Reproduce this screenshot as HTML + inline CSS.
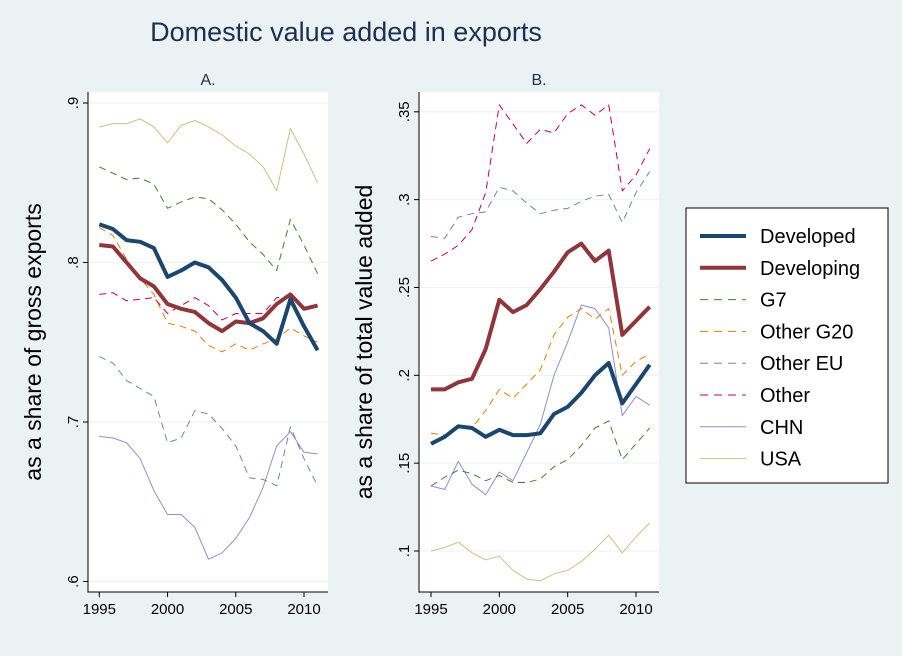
<!DOCTYPE html>
<html><head><meta charset="utf-8"><style>
body{margin:0;background:#eaf2f3;}
svg{display:block;font-family:"Liberation Sans",Arial,sans-serif;}
</style></head><body>
<svg width="902" height="656" viewBox="0 0 902 656">
<rect width="902" height="656" fill="#eaf2f3"/>
<text x="346" y="41" font-size="27" fill="#1e2d53" text-anchor="middle">Domestic value added in exports</text>
<g id="pA"></g>
<g id="pB"></g>
<g id="legend"></g>
</svg>
<script>
const years=[1995,1996,1997,1998,1999,2000,2001,2002,2003,2004,2005,2006,2007,2008,2009,2010,2011];
const seriesNames=["Developed","Developing","G7","Other G20","Other EU","Other","CHN","USA"];
const xTicks=[1995,2000,2005,2010];
const aTicks=[0.6,0.7,0.8,0.9];
const aTickLabels=[".6",".7",".8",".9"];
const bTicks=[0.1,0.15,0.2,0.25,0.3,0.35];
const bTickLabels=[".1",".15",".2",".25",".3",".35"];
const aDeveloped=[.824,.821,.814,.813,.809,.791,.795,.8,.797,.789,.778,.762,.757,.749,.777,.76,.745];
const aDeveloping=[.811,.81,.8,.79,.785,.774,.771,.769,.762,.757,.763,.762,.765,.774,.78,.771,.773];
const aG7=[.86,.856,.852,.853,.849,.834,.838,.841,.84,.833,.824,.813,.805,.795,.827,.811,.793];
const aOtherG20=[.822,.817,.802,.79,.78,.762,.76,.757,.748,.744,.749,.745,.749,.752,.759,.754,.75];
const aOtherEU=[.741,.737,.726,.721,.716,.687,.69,.707,.705,.696,.685,.665,.664,.66,.697,.677,.66];
const aOther=[.78,.781,.776,.777,.778,.768,.773,.778,.773,.764,.768,.768,.768,.778,.779,.772,.773];
const aCHN=[.691,.69,.687,.677,.657,.642,.642,.634,.614,.618,.627,.64,.659,.685,.694,.681,.68];
const aUSA=[.885,.887,.887,.89,.885,.875,.886,.889,.885,.88,.873,.868,.86,.845,.884,.868,.85];
const bDeveloped=[.161,.165,.171,.17,.165,.169,.166,.166,.167,.178,.182,.19,.2,.207,.184,.195,.206];
const bDeveloping=[.192,.192,.196,.198,.215,.243,.236,.24,.249,.259,.27,.275,.265,.271,.223,.231,.239];
const bG7=[.137,.142,.146,.144,.14,.143,.139,.139,.141,.148,.152,.16,.17,.174,.152,.161,.17];
const bOtherG20=[.167,.166,.17,.17,.18,.192,.187,.195,.203,.223,.233,.238,.232,.238,.2,.208,.212];
const bOtherEU=[.279,.278,.29,.292,.293,.307,.305,.298,.292,.294,.295,.299,.302,.303,.287,.304,.316];
const bOther=[.265,.269,.274,.283,.304,.354,.343,.332,.34,.338,.349,.354,.348,.354,.305,.314,.329];
const bCHN=[.137,.135,.151,.138,.132,.145,.14,.156,.172,.2,.219,.24,.238,.227,.177,.188,.183];
const bUSA=[.1,.102,.105,.099,.095,.097,.089,.084,.083,.087,.089,.094,.101,.109,.099,.108,.116];

const styles=[
 {c:"#1a476f",w:4,d:""},{c:"#90353b",w:4,d:""},{c:"#55752f",w:1,d:"7,5"},{c:"#e37e00",w:1,d:"7,5"},
 {c:"#6e8e84",w:1,d:"7,5"},{c:"#c10534",w:1,d:"7,5"},{c:"#938dd2",w:1,d:""},{c:"#cac27e",w:1,d:""}];
const NS="http://www.w3.org/2000/svg";
function mk(p,t,a){const e=document.createElementNS(NS,t);for(const k in a)e.setAttribute(k,a[k]);p.appendChild(e);return e;}

function panel(g,box,x0,x1,ymin,ymax,ytickY0,ytickY1,ticks,labels,data,title,ytitle,key){
  const xs=v=>x0+(v-1995)/(2010-1995)*(x1-x0);
  const ys=v=>ytickY0+(v-ymin)/(ymax-ymin)*(ytickY1-ytickY0);
  const r=mk(g,"rect",{x:box[0],y:box[1],width:box[2]-box[0],height:box[3]-box[1],fill:"#fff"});
  
  
  ticks.forEach((t,i)=>{
    const gl=mk(g,"line",{x1:box[0],x2:box[2],y1:ys(t),y2:ys(t),stroke:"#eaf2f3","stroke-width":1});
    
    
    const tk=mk(g,"line",{x1:box[0]-5,x2:box[0],y1:ys(t),y2:ys(t),stroke:"#000"});
    
    
    const tx=mk(g,"text",{x:0,y:0,"font-size":15,"text-anchor":"middle",transform:`translate(${box[0]-10},${ys(t)}) rotate(-90)`});
    tx.textContent=labels[i];
    
    
  });
  xTicks.forEach(t=>{
    const tk=mk(g,"line",{x1:xs(t),x2:xs(t),y1:box[3],y2:box[3]+5,stroke:"#000"});
    
    
    const tx=mk(g,"text",{x:xs(t),y:box[3]+22,"font-size":15,"text-anchor":"middle"});
    tx.textContent=t;
    
    
  });
  const ax=mk(g,"path",{d:`M${box[0]},${box[1]}V${box[3]}H${box[2]}`,fill:"none",stroke:"#000"});
  
  
  const order=[7,6,4,3,2,5,1,0];
  order.forEach(i=>{
    const s=styles[i];
    const d=data[i].map((v,j)=>(j?"L":"M")+xs(years[j]).toFixed(1)+","+ys(v).toFixed(1)).join("");
    const p=mk(g,"path",{d:d,fill:"none",stroke:s.c,"stroke-width":s.w,"stroke-dasharray":s.d,"stroke-linejoin":"round"});
    
    
  });
  const st=mk(g,"text",{x:(box[0]+box[2])/2,y:box[1]-7,"font-size":16,"text-anchor":"middle",fill:"#1e2d53"});
  st.textContent=title;
  
  
  const yt=mk(g,"text",{x:0,y:0,"font-size":23,"text-anchor":"middle",transform:`translate(${box[0]-47},${(box[1]+box[3])/2}) rotate(-90)`});
  yt.textContent=ytitle;
  
  
}
panel(document.getElementById("pA"),[88,92,328,592],99.3,304,0.6,0.9,581.5,103,aTicks,aTickLabels,
 [aDeveloped,aDeveloping,aG7,aOtherG20,aOtherEU,aOther,aCHN,aUSA],"A.","as a share of gross exports","panel-a");
panel(document.getElementById("pB"),[419,92,659,592],431,636,0.1,0.35,551,111.8,bTicks,bTickLabels,
 [bDeveloped,bDeveloping,bG7,bOtherG20,bOtherEU,bOther,bCHN,bUSA],"B.","as a share of total value added","panel-b");

const lg=document.getElementById("legend");
const lb=mk(lg,"rect",{x:686,y:208,width:202,height:275,fill:"#fff",stroke:"#000"});


seriesNames.forEach((n,i)=>{
  const y=236+i*31.8, s=styles[i];
  const ln=mk(lg,"line",{x1:700,x2:746,y1:y,y2:y,stroke:s.c,"stroke-width":s.w,"stroke-dasharray":s.d?"8,6":""});
  
  
  const t=mk(lg,"text",{x:760,y:y+7,"font-size":20});
  t.textContent=n;
  
  
});
</script>
</body></html>
